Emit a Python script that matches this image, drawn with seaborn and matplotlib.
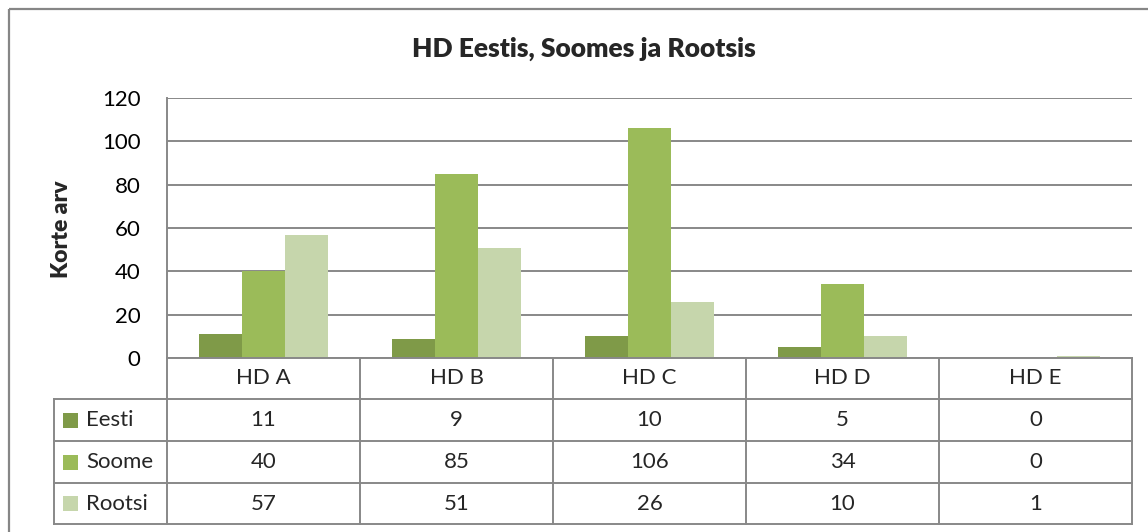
import pandas as pd
import matplotlib.pyplot as plt
import seaborn as sns
from matplotlib.patches import Rectangle

# chart data
categories = ["HD A", "HD B", "HD C", "HD D", "HD E"]
series_names = ["Eesti", "Soome", "Rootsi"]
eesti = [11, 9, 10, 5, 0]
soome = [40, 85, 106, 34, 0]
rootsi = [57, 51, 26, 10, 1]
y_ticks = [0, 20, 40, 60, 80, 100, 120]

colors = ["#7F9A48", "#9BBB59", "#C6D6AC"]
line_color = "#888888"
W, H = 1148, 532

sns.set_theme(style="white")
plt.rcParams['font.family'] = ['Lato', 'DejaVu Sans']

df = pd.DataFrame({
    'category': categories * 3,
    'series': [s for s in series_names for _ in categories],
    'value': eesti + soome + rootsi,
})

fig = plt.figure(figsize=(W / 100, H / 100), dpi=100)
fig.patch.set_facecolor('white')
ax = fig.add_axes([167 / W, 1 - 358 / H, (1132 - 167) / W, (358 - 98) / H])

sns.barplot(data=df, x='category', y='value', hue='series',
            order=categories, hue_order=series_names, palette=colors,
            width=0.665, saturation=1, linewidth=0, legend=False, ax=ax)

ax.set_xlim(-0.5, len(categories) - 0.5)
ax.set_ylim(0, 120)
ax.set_yticks(y_ticks)
ax.grid(axis='y', color=line_color, linewidth=1.4)
ax.grid(axis='x', visible=False)
ax.set_axisbelow(True)
for side in ['top', 'right']:
    ax.spines[side].set_visible(False)
for side in ['left', 'bottom']:
    ax.spines[side].set_color(line_color)
    ax.spines[side].set_linewidth(1.4)
ax.tick_params(axis='y', length=0, pad=19, labelsize=16, labelcolor='black')
ax.tick_params(axis='x', length=0, labelbottom=False)
ax.set_xlabel('')
ax.set_ylabel('')

fig.text(62 / W, 1 - 229 / H, 'Korte arv', rotation=90, fontsize=16.5,
         fontweight='heavy', ha='center', va='center')
fig.text(584 / W, 1 - 49 / H, 'HD Eestis, Soomes ja Rootsis', fontsize=19,
         fontweight='heavy', ha='center', va='center')

# data table under the chart, columns follow the chart's x scale
ov = fig.add_axes([0, 0, 1, 1])
ov.set_xlim(0, W)
ov.set_ylim(H, 0)
ov.axis('off')
ov.patch.set_alpha(0)

edges = [ax.transData.transform((i - 0.5, 0))[0] for i in range(len(categories) + 1)]
top = H - ax.transData.transform((0, 0))[1]
rows = [top, 399, 441, 483, 524]
left = 54
kw = dict(color=line_color, linewidth=1.4, solid_capstyle='projecting')

for x in edges:
    ov.plot([x, x], [rows[0], rows[-1]], **kw)
ov.plot([left, left], [rows[1], rows[-1]], **kw)
for y in rows[1:]:
    ov.plot([left, edges[-1]], [y, y], **kw)

for i, cat in enumerate(categories):
    cx = (edges[i] + edges[i + 1]) / 2
    ov.text(cx, (rows[0] + rows[1]) / 2, cat, fontsize=16, ha='center', va='center')
    for r, vals in enumerate([eesti, soome, rootsi]):
        ov.text(cx, (rows[r + 1] + rows[r + 2]) / 2, str(vals[i]), fontsize=16,
                ha='center', va='center')

for r, name in enumerate(series_names):
    cy = (rows[r + 1] + rows[r + 2]) / 2
    ov.add_patch(Rectangle((63, cy - 7.5), 15, 15, facecolor=colors[r], edgecolor='none'))
    ov.text(86, cy, name, fontsize=16, ha='left', va='center')

# outer chart border
ov.add_patch(Rectangle((9, 9), W, H, facecolor='none', edgecolor='#868686',
                       linewidth=1.6, clip_on=False))

fig.savefig('out.png', dpi=100)
